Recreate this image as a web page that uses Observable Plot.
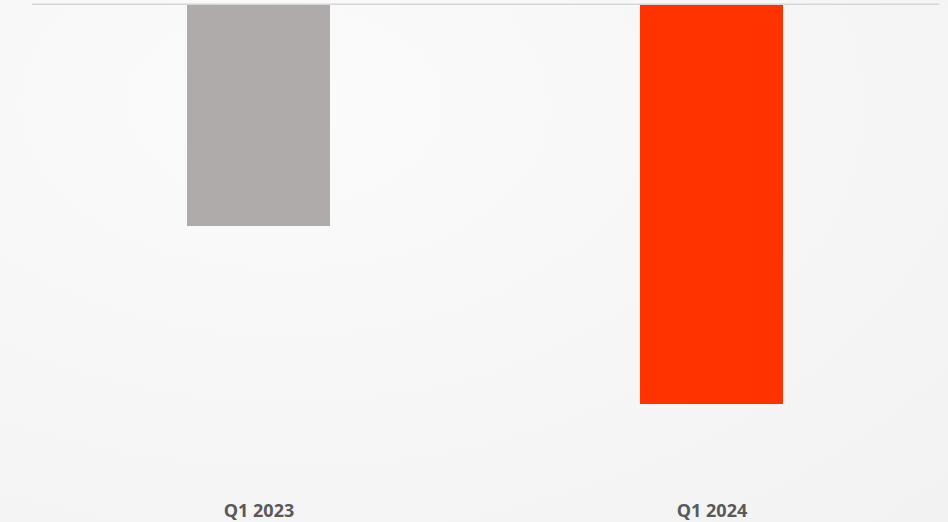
<!DOCTYPE html>
<html>
<head>
<meta charset="utf-8">
<script src="https://cdn.jsdelivr.net/npm/d3@7"></script>
<script src="https://cdn.jsdelivr.net/npm/@observablehq/plot@0.6"></script>
<style>
  html, body { margin: 0; padding: 0; }
  body {
    width: 948px; height: 522px; overflow: hidden;
    background: radial-gradient(ellipse at 30% 20%, #fbfbfb 0%, #f7f7f7 45%, #f2f2f2 100%);
  }
  #chart svg { display: block; background: transparent; }
</style>
</head>
<body>
<div id="chart"></div>
<script>
const categories = ["Q1 2023", "Q1 2024"];
const values = [-2.21, -3.99];
const colors = ["#AFABAA", "#FF3300"];

const data = categories.map((c, i) => ({ category: c, value: values[i], color: colors[i] }));

const chart = Plot.plot({
  width: 948,
  height: 522,
  marginTop: 5,
  marginBottom: 37,
  marginLeft: 32,
  marginRight: 9,
  style: { background: "transparent", fontFamily: "'Open Sans', sans-serif" },
  x: { domain: categories, paddingInner: 0.684, paddingOuter: 0.343, label: null },
  y: { domain: [-4.8, 0], axis: null },
  marks: [
    Plot.barY(data, { x: "category", y: "value", fill: "color" }),
    Plot.ruleY([0], { stroke: "#d6d6d6", strokeWidth: 1.5, dy: -1.25 }),
    Plot.axisX({
      tickSize: 0,
      tickPadding: 19,
      fontSize: 18,
      fontWeight: "bold",
      fill: "#595959",
      label: null
    })
  ]
});
document.getElementById("chart").appendChild(chart);
</script>
</body>
</html>
